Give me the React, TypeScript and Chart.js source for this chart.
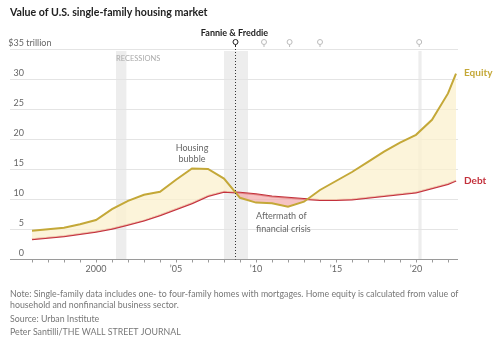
import React, { useEffect, useRef } from "react";
import { Chart, registerables } from "chart.js";

Chart.register(...registerables);

const years = [1996, 1997, 1998, 1999, 2000, 2001, 2002, 2003, 2004, 2005, 2006, 2007, 2008, 2009, 2010, 2011, 2012, 2013, 2014, 2015, 2016, 2017, 2018, 2019, 2020, 2021, 2022, 2022.5];
const equity = [4.7, 4.95, 5.2, 5.8, 6.5, 8.3, 9.7, 10.7, 11.2, 13.2, 15.1, 15.0, 13.4, 10.2, 9.4, 9.3, 8.7, 9.55, 11.5, 13.0, 14.5, 16.2, 17.9, 19.4, 20.7, 23.2, 27.6, 30.9];
const debt = [3.3, 3.55, 3.8, 4.15, 4.55, 5.05, 5.7, 6.4, 7.3, 8.3, 9.3, 10.5, 11.2, 11.05, 10.8, 10.4, 10.2, 10.0, 9.85, 9.85, 9.9, 10.2, 10.5, 10.8, 11.1, 11.8, 12.5, 13.05];
const yTicks = [0, 5, 10, 15, 20, 25, 30, 35];
const xLabelYears = [2000, 2005, 2010, 2015, 2020];
const xLabelTexts = ["2000", "\u201905", "\u201910", "\u201915", "\u201920"];
const recessions = [[2001.25, 2001.9], [2008.0, 2009.5], [2020.15, 2020.35]];
const fannieYear = 2008.7;
const pinYears = [2010.5, 2012.1, 2014.0, 2020.2];

const FONT = "Lato, 'Noto Sans', sans-serif";

const overlay = {
  id: "overlay",
  beforeDatasetsDraw(chart: any) {
    const { ctx, chartArea, scales } = chart;
    const x = scales.x, y = scales.y;
    ctx.save();
    // recession bands
    ctx.fillStyle = "#ededed";
    recessions.forEach(([a, b]) => {
      const xa = x.getPixelForValue(a), xb = x.getPixelForValue(b);
      ctx.fillRect(xa, y.getPixelForValue(35) + 2, xb - xa, y.getPixelForValue(0) - y.getPixelForValue(35) - 2);
    });
    // gridlines
    ctx.strokeStyle = "#e4e4e4";
    ctx.lineWidth = 1;
    yTicks.forEach((t) => {
      if (t === 0) return;
      const py = Math.round(y.getPixelForValue(t)) + 0.5;
      ctx.beginPath();
      ctx.moveTo(chartArea.left, py);
      ctx.lineTo(chartArea.right, py);
      ctx.stroke();
    });
    // recessions label
    ctx.fillStyle = "#aaaaaa";
    ctx.font = `7.5px ${FONT}`;
    ctx.textBaseline = "middle";
    ctx.textAlign = "left";
    ctx.fillText("RECESSIONS", 116, 59);
    ctx.restore();
  },
  afterDatasetsDraw(chart: any) {
    const { ctx, chartArea, scales } = chart;
    const x = scales.x, y = scales.y;
    ctx.save();
    // baseline
    const by = Math.round(y.getPixelForValue(0)) + 0.5;
    ctx.strokeStyle = "#9a9a9a";
    ctx.lineWidth = 1;
    ctx.beginPath();
    ctx.moveTo(chartArea.left, by);
    ctx.lineTo(chartArea.right, by);
    ctx.stroke();
    // ticks
    for (let yr = 1996; yr <= 2022; yr++) {
      const px = Math.round(x.getPixelForValue(yr)) + 0.5;
      ctx.beginPath();
      ctx.moveTo(px, by);
      ctx.lineTo(px, by + 3);
      ctx.stroke();
    }
    // x labels
    ctx.fillStyle = "#666666";
    ctx.font = `9px ${FONT}`;
    ctx.textAlign = "center";
    ctx.textBaseline = "middle";
    xLabelYears.forEach((yr, i) => {
      ctx.fillText(xLabelTexts[i], x.getPixelForValue(yr), 269);
    });
    // y labels
    ctx.textAlign = "right";
    yTicks.forEach((t) => {
      const py = y.getPixelForValue(t) - 6;
      if (t === 35) {
        ctx.fillText("$35", 24, py);
        ctx.textAlign = "left";
        ctx.fillText(" trillion", 24, py);
        ctx.textAlign = "right";
      } else {
        ctx.fillText(String(t), 24, py);
      }
    });
    // dotted Fannie line
    const fx = Math.round(x.getPixelForValue(fannieYear)) + 0.5;
    ctx.strokeStyle = "#333333";
    ctx.setLineDash([1, 2]);
    ctx.beginPath();
    ctx.moveTo(fx, 46);
    ctx.lineTo(fx, by);
    ctx.stroke();
    ctx.setLineDash([]);
    // pins
    const drawPin = (px: number, color: string) => {
      ctx.strokeStyle = color;
      ctx.fillStyle = "#ffffff";
      ctx.lineWidth = 1;
      ctx.beginPath();
      ctx.arc(px, 42, 2.5, 0, Math.PI * 2);
      ctx.fill();
      ctx.stroke();
      ctx.beginPath();
      ctx.moveTo(px, 44.5);
      ctx.lineTo(px, 47);
      ctx.stroke();
    };
    pinYears.forEach((py) => drawPin(x.getPixelForValue(py), "#bbbbbb"));
    drawPin(fx, "#222222");
    ctx.fillStyle = "#222222";
    ctx.font = `bold 9px ${FONT}`;
    ctx.textAlign = "center";
    ctx.fillText("Fannie & Freddie", fx - 1, 33);
    // annotations
    ctx.fillStyle = "#666666";
    ctx.font = `9px ${FONT}`;
    ctx.textAlign = "center";
    ctx.fillText("Housing", 192, 148);
    ctx.fillText("bubble", 192, 159);
    ctx.textAlign = "left";
    ctx.fillText("Aftermath of", 256, 216);
    ctx.fillText("financial crisis", 256, 229);
    // series labels
    ctx.font = `bold 10px ${FONT}`;
    ctx.fillStyle = "#c4a838";
    ctx.fillText("Equity", 464, 73);
    ctx.fillStyle = "#c3303b";
    ctx.fillText("Debt", 464, 181);
    // title
    ctx.fillStyle = "#222222";
    ctx.font = `bold 10.6px ${FONT}`;
    ctx.fillText("Value of U.S. single-family housing market", 10, 13);
    // footer
    ctx.fillStyle = "#777777";
    ctx.font = `8.8px ${FONT}`;
    ctx.fillText("Note: Single-family data includes one- to four-family homes with mortgages. Home equity is calculated from value of", 10, 294);
    ctx.fillText("household and nonfinancial business sector.", 10, 305);
    ctx.fillText("Source: Urban Institute", 10, 319);
    ctx.fillText("Peter Santilli/THE WALL STREET JOURNAL", 10, 332);
    ctx.restore();
  },
};

export default function App() {
  const ref = useRef<HTMLCanvasElement>(null);
  useEffect(() => {
    const canvas = ref.current!;
    const chart = new Chart(canvas, {
      type: "line",
      data: {
        datasets: [
          {
            label: "Equity",
            data: years.map((yr, i) => ({ x: yr, y: equity[i] })),
            borderColor: "#c4a838",
            borderWidth: 2,
            pointRadius: 0,
            tension: 0,
            fill: { target: 1, above: "rgba(251,240,205,0.75)", below: "rgba(242,170,170,0.7)" },
          },
          {
            label: "Debt",
            data: years.map((yr, i) => ({ x: yr, y: debt[i] })),
            borderColor: "#c3303b",
            borderWidth: 2,
            pointRadius: 0,
            tension: 0,
            fill: false,
          },
        ],
      },
      options: {
        responsive: false,
        animation: false,
        layout: { padding: { left: 10, right: 42, top: 49, bottom: 82 } },
        scales: {
          x: { type: "linear", min: 1994.625, max: 2022.625, display: false },
          y: { min: 0, max: 35, display: false },
        },
        plugins: { legend: { display: false }, tooltip: { enabled: false } },
      },
      plugins: [overlay],
    });
    return () => chart.destroy();
  }, []);
  return (
    <canvas
      ref={ref}
      width={500}
      height={341}
      style={{ position: "absolute", left: 0, top: 0, width: 500, height: 341 }}
    />
  );
}
